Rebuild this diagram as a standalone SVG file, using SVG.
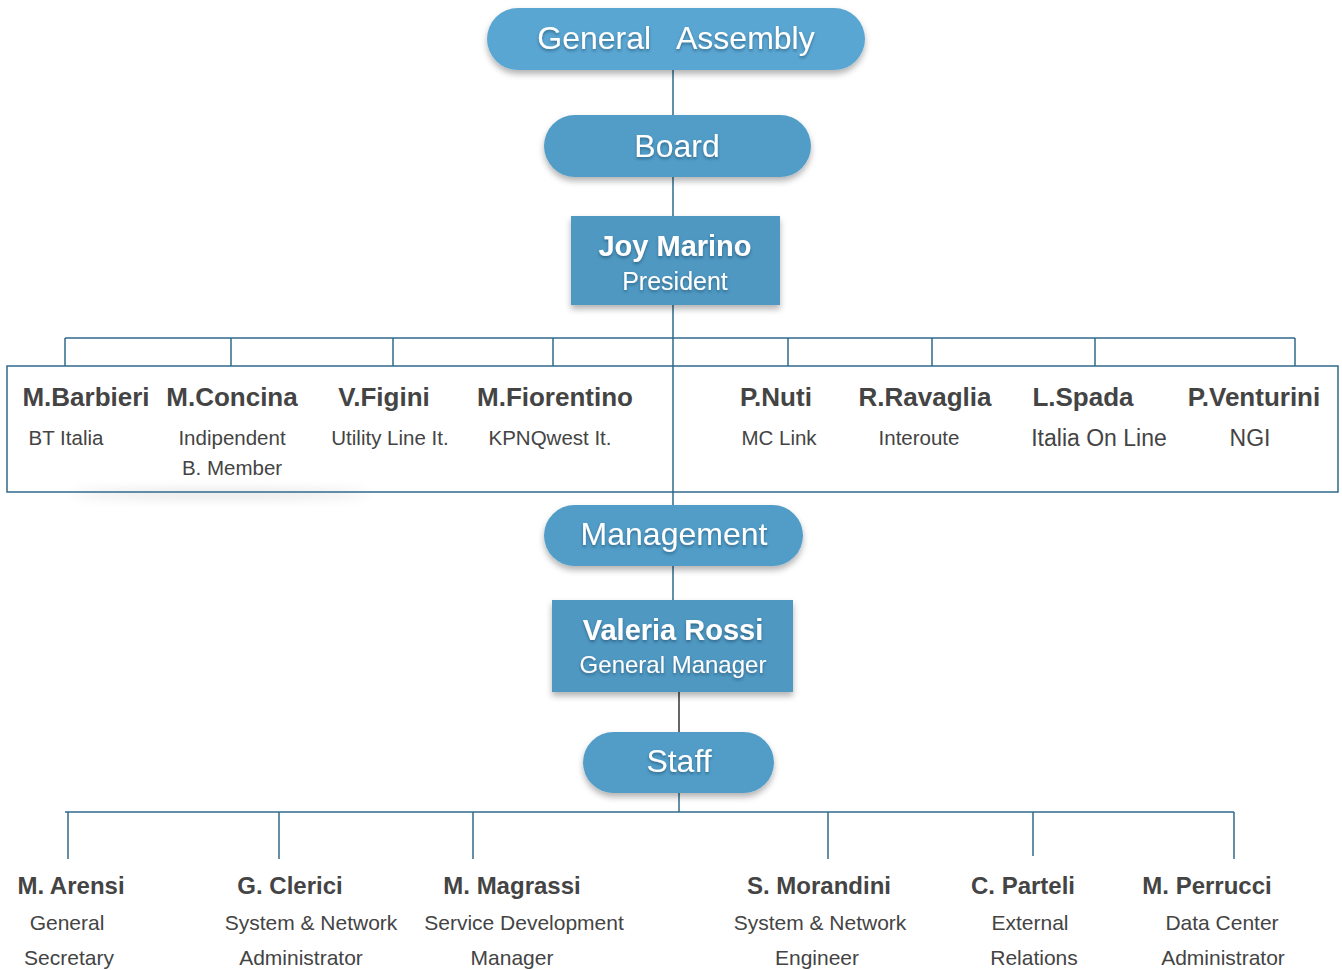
<svg xmlns="http://www.w3.org/2000/svg" width="1342" height="970" viewBox="0 0 1342 970">
<defs>
<filter id="sh" x="-10%" y="-20%" width="120%" height="150%">
<feDropShadow dx="0" dy="4" stdDeviation="3" flood-color="#000" flood-opacity="0.3"/>
</filter>
<filter id="ts" x="-10%" y="-30%" width="120%" height="160%">
<feDropShadow dx="0" dy="2" stdDeviation="1.5" flood-color="#1d4a66" flood-opacity="0.6"/>
</filter>
<filter id="soft" x="-20%" y="-200%" width="140%" height="500%">
<feGaussianBlur stdDeviation="6"/>
</filter>
</defs>
<style>
.pill{fill:#519dc8;filter:url(#sh)}
.box{fill:#4f98c2;filter:url(#sh)}
.wt{fill:#fff;font-family:"Liberation Sans",Arial,sans-serif;text-anchor:middle;filter:url(#ts);white-space:pre}
.big{font-size:32px}
.bn{font-size:29px;font-weight:bold}
.sub{font-size:25px}
.ln{stroke:#2f6a8c;stroke-width:1.5;fill:none}
.dk{stroke:#333;stroke-width:1.5;fill:none}
.nm{fill:#444;font-family:"Liberation Sans",Arial,sans-serif;font-size:26px;font-weight:bold;text-anchor:middle}
.co{fill:#444;font-family:"Liberation Sans",Arial,sans-serif;font-size:20.5px;text-anchor:middle}
.co2{fill:#444;font-family:"Liberation Sans",Arial,sans-serif;font-size:23px;text-anchor:middle}
.sn{fill:#444;font-family:"Liberation Sans",Arial,sans-serif;font-size:24px;font-weight:bold;text-anchor:middle}
.sr{fill:#444;font-family:"Liberation Sans",Arial,sans-serif;font-size:21px;text-anchor:middle}
</style>
<ellipse cx="220" cy="494" rx="150" ry="4" fill="#000" opacity="0.12" filter="url(#soft)"/>
<g id="connectors">
<line class="ln" x1="673" y1="70" x2="673" y2="115"/>
<line class="ln" x1="673" y1="177" x2="673" y2="216"/>
<line class="ln" x1="673" y1="305" x2="673" y2="505"/>
<line class="ln" x1="65" y1="338" x2="1295" y2="338"/>
<line class="ln" x1="65" y1="338" x2="65" y2="366"/>
<line class="ln" x1="231" y1="338" x2="231" y2="366"/>
<line class="ln" x1="393" y1="338" x2="393" y2="366"/>
<line class="ln" x1="553" y1="338" x2="553" y2="366"/>
<line class="ln" x1="788" y1="338" x2="788" y2="366"/>
<line class="ln" x1="932" y1="338" x2="932" y2="366"/>
<line class="ln" x1="1095" y1="338" x2="1095" y2="366"/>
<line class="ln" x1="1295" y1="338" x2="1295" y2="366"/>
<line class="ln" x1="673" y1="566" x2="673" y2="600"/>
<line class="dk" x1="679" y1="692" x2="679" y2="732"/>
<line class="ln" x1="679" y1="793" x2="679" y2="812"/>
<line class="ln" x1="65" y1="812" x2="1234" y2="812"/>
<line class="ln" x1="68" y1="812" x2="68" y2="859"/>
<line class="ln" x1="279" y1="812" x2="279" y2="859"/>
<line class="ln" x1="473" y1="812" x2="473" y2="859"/>
<line class="ln" x1="828" y1="812" x2="828" y2="859"/>
<line class="ln" x1="1033" y1="812" x2="1033" y2="856"/>
<line class="ln" x1="1234" y1="812" x2="1234" y2="859"/>
</g>
<g id="general-assembly">
<rect class="pill" x="487" y="8" width="378" height="62" rx="31" style="fill:#5aa6d2"/>
<text class="wt big" x="676" y="49" xml:space="preserve">General   Assembly</text>
</g>
<g id="board">
<rect class="pill" x="544" y="115" width="267" height="62" rx="31"/>
<text class="wt big" x="677" y="157">Board</text>
</g>
<g id="president">
<rect class="box" x="571" y="216" width="209" height="89"/>
<text class="wt bn" x="675" y="256">Joy Marino</text>
<text class="wt sub" x="675" y="290">President</text>
</g>
<g id="board-members">
<rect x="7" y="366" width="1331" height="126" fill="none" stroke="#2f6a8c" stroke-width="1.5"/>
<text class="nm" x="86" y="406">M.Barbieri</text>
<text class="co" x="66" y="445">BT Italia</text>
<text class="nm" x="232" y="406">M.Concina</text>
<text class="co" x="232" y="445">Indipendent</text>
<text class="co" x="232" y="475">B. Member</text>
<text class="nm" x="384" y="406">V.Figini</text>
<text class="co" x="390" y="445">Utility Line It.</text>
<text class="nm" x="555" y="406">M.Fiorentino</text>
<text class="co" x="550" y="445">KPNQwest It.</text>
<text class="nm" x="776" y="406">P.Nuti</text>
<text class="co" x="779" y="445">MC Link</text>
<text class="nm" x="925" y="406">R.Ravaglia</text>
<text class="co" x="919" y="445">Interoute</text>
<text class="nm" x="1083" y="406">L.Spada</text>
<text class="co2" x="1099" y="446">Italia On Line</text>
<text class="nm" x="1254" y="406">P.Venturini</text>
<text class="co2" x="1250" y="446">NGI</text>
</g>
<g id="management">
<rect class="pill" x="544" y="505" width="259" height="61" rx="30.5"/>
<text class="wt big" x="674" y="545">Management</text>
</g>
<g id="general-manager">
<rect class="box" x="552" y="600" width="241" height="92"/>
<text class="wt bn" x="673" y="640">Valeria Rossi</text>
<text class="wt sub" x="673" y="673" style="font-size:24px">General Manager</text>
</g>
<g id="staff">
<rect class="pill" x="583" y="732" width="191" height="61" rx="30.5"/>
<text class="wt big" x="679" y="772">Staff</text>
</g>
<g id="staff-members">
<text class="sn" x="71" y="894">M. Arensi</text>
<text class="sr" x="67" y="930">General</text>
<text class="sr" x="69" y="965">Secretary</text>
<text class="sn" x="290" y="894">G. Clerici</text>
<text class="sr" x="311" y="930">System &amp; Network</text>
<text class="sr" x="301" y="965">Administrator</text>
<text class="sn" x="512" y="894">M. Magrassi</text>
<text class="sr" x="524" y="930">Service Development</text>
<text class="sr" x="512" y="965">Manager</text>
<text class="sn" x="819" y="894">S. Morandini</text>
<text class="sr" x="820" y="930">System &amp; Network</text>
<text class="sr" x="817" y="965">Engineer</text>
<text class="sn" x="1023" y="894">C. Parteli</text>
<text class="sr" x="1030" y="930">External</text>
<text class="sr" x="1034" y="965">Relations</text>
<text class="sn" x="1207" y="894">M. Perrucci</text>
<text class="sr" x="1222" y="930">Data Center</text>
<text class="sr" x="1223" y="965">Administrator</text>
</g>
</svg>
